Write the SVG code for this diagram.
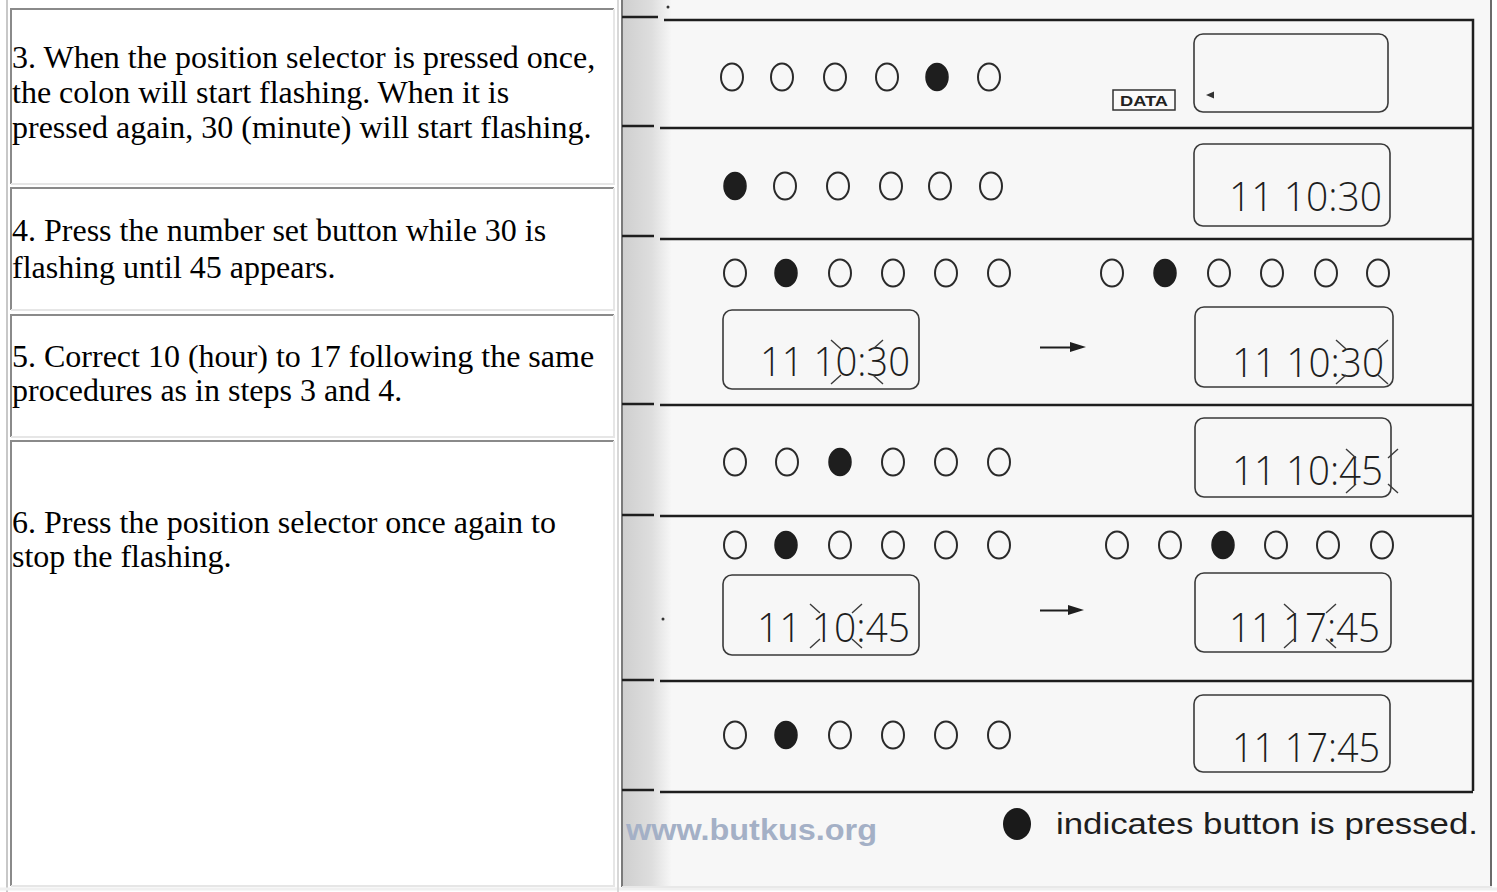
<svg xmlns="http://www.w3.org/2000/svg" width="1497" height="892" viewBox="0 0 1497 892">
<defs>
<style>
.cell{fill:#ffffff}
.bd{stroke:#8a8a8a;stroke-width:2;fill:none}
.bl{stroke:#e6e6e6;stroke-width:2;fill:none}
.t{font-family:"Liberation Serif","Times New Roman",serif;font-size:32px;fill:#000}
.rule{stroke:#1e1e1e;stroke-width:2.5;fill:none}
.oc{fill:none;stroke:#2a2a2a;stroke-width:2}
.fc{fill:#1e1e1e;stroke:#1e1e1e;stroke-width:1.5}
.lcd{fill:none;stroke:#3a3a3a;stroke-width:1.6}
.dig{font-family:"Open Sans","Liberation Sans Narrow","DejaVu Sans Mono",sans-serif;font-weight:300;font-size:40px;fill:#1e1e1e}
.fl{stroke:#3a3a3a;stroke-width:1.4;fill:none}
.arr{fill:#1e1e1e}
</style>
<linearGradient id="bind" x1="0" y1="0" x2="1" y2="0">
<stop offset="0" stop-color="#cfcfcf"/>
<stop offset="0.6" stop-color="#dedede"/>
<stop offset="1" stop-color="#f6f6f6"/>
</linearGradient>
<g id="flash">
<line x1="-26" y1="-22" x2="-16" y2="-13"/>
<line x1="26" y1="-22" x2="16" y2="-13"/>
<line x1="-26" y1="22" x2="-16" y2="13"/>
<line x1="26" y1="22" x2="16" y2="13"/>
</g>
</defs>
<rect x="0" y="0" width="1497" height="892" fill="#ffffff"/>
<line x1="7" y1="0" x2="7" y2="892" stroke="#c8c8c8" stroke-width="2"/>
<line x1="0" y1="889" x2="1497" y2="889" stroke="#f0f0f0" stroke-width="3"/>

<g id="step3">
<rect class="cell" x="11" y="9" width="603" height="175"/>
<path class="bd" d="M11,184 V9 H614"/>
<path class="bl" d="M614,9 V184 H11"/>
<text class="t" x="12" y="68">3. When the position selector is pressed once,</text>
<text class="t" x="12" y="103">the colon will start flashing. When it is</text>
<text class="t" x="12" y="138">pressed again, 30 (minute) will start flashing.</text>
</g>
<g id="step4">
<path class="bd" d="M11,310 V188 H614"/>
<path class="bl" d="M614,188 V310 H11"/>
<text class="t" x="12" y="241">4. Press the number set button while 30 is</text>
<text class="t" x="12" y="278">flashing until 45 appears.</text>
</g>
<g id="step5">
<path class="bd" d="M11,437 V315 H614"/>
<path class="bl" d="M614,315 V437 H11"/>
<text class="t" x="12" y="367">5. Correct 10 (hour) to 17 following the same</text>
<text class="t" x="12" y="401">procedures as in steps 3 and 4.</text>
</g>
<g id="step6">
<path class="bd" d="M11,886 V441 H614"/>
<path class="bl" d="M614,441 V886 H11"/>
<text class="t" x="12" y="533">6. Press the position selector once again to</text>
<text class="t" x="12" y="567">stop the flashing.</text>
</g>

<g id="scan">
<line x1="618" y1="0" x2="618" y2="892" stroke="#d8d8d8" stroke-width="2"/>
<rect x="623" y="0" width="867" height="886" fill="#f7f7f7"/>
<rect x="623" y="0" width="48" height="886" fill="url(#bind)"/>
<line x1="622" y1="0" x2="622" y2="887" stroke="#7a7a7a" stroke-width="2"/>
<line x1="1491" y1="0" x2="1491" y2="887" stroke="#6a6a6a" stroke-width="2"/>
<line x1="622" y1="887" x2="1492" y2="887" stroke="#e8e8e8" stroke-width="2"/>
</g>

<g id="connectors">
<path class="rule" d="M622,17 H658 M664,20 H1473 V791"/>
<path class="rule" d="M622,126 H654 M660,128 H1473"/>
<path class="rule" d="M622,236 H654 M660,239 H1473"/>
<path class="rule" d="M622,404 H654 M660,405 H1473"/>
<path class="rule" d="M622,515 H654 M660,516 H1473"/>
<path class="rule" d="M622,680 H654 M660,681 H1473"/>
<path class="rule" d="M622,790 H654 M660,792 H1473"/>
<circle cx="668" cy="7" r="1.5" fill="#333"/>
<circle cx="663" cy="619" r="1.5" fill="#333"/>
<path class="arr" d="M1040,346.5 H1070 V342 L1086,347 L1070,352 V348.5 H1040 Z"/>
<path class="arr" d="M1040,609.5 H1068 V605 L1084,610 L1068,615 V611.5 H1040 Z"/>
</g>

<g id="row1">
<ellipse class="oc" cx="732" cy="77" rx="11" ry="13.5"/>
<ellipse class="oc" cx="782" cy="77" rx="11" ry="13.5"/>
<ellipse class="oc" cx="835" cy="77" rx="11" ry="13.5"/>
<ellipse class="oc" cx="887" cy="77" rx="11" ry="13.5"/>
<ellipse class="fc" cx="937" cy="77" rx="11" ry="13.5"/>
<ellipse class="oc" cx="989" cy="77" rx="11" ry="13.5"/>
<rect x="1113" y="90" width="62" height="20" fill="#fafafa" stroke="#333" stroke-width="1.5"/>
<text x="1144" y="106" text-anchor="middle" font-family="Liberation Sans, Arial, sans-serif" font-weight="bold" font-size="14" fill="#222" textLength="48" lengthAdjust="spacingAndGlyphs">DATA</text>
<rect class="lcd" x="1194" y="34" width="194" height="78" rx="9"/>
<path d="M1206,95 L1214,91.5 V98.5 Z" fill="#333"/>
</g>

<g id="row2">
<ellipse class="fc" cx="735" cy="186" rx="11" ry="13.5"/>
<ellipse class="oc" cx="785" cy="186" rx="11" ry="13.5"/>
<ellipse class="oc" cx="838" cy="186" rx="11" ry="13.5"/>
<ellipse class="oc" cx="891" cy="186" rx="11" ry="13.5"/>
<ellipse class="oc" cx="940" cy="186" rx="11" ry="13.5"/>
<ellipse class="oc" cx="991" cy="186" rx="11" ry="13.5"/>
<rect class="lcd" x="1194" y="144" width="196" height="82" rx="9"/>
<text class="dig" x="1229" y="211" textLength="153" lengthAdjust="spacingAndGlyphs">11 10:30</text>
</g>

<g id="row3">
<ellipse class="oc" cx="735" cy="273" rx="11" ry="13.5"/>
<ellipse class="fc" cx="786" cy="273" rx="11" ry="13.5"/>
<ellipse class="oc" cx="840" cy="273" rx="11" ry="13.5"/>
<ellipse class="oc" cx="893" cy="273" rx="11" ry="13.5"/>
<ellipse class="oc" cx="946" cy="273" rx="11" ry="13.5"/>
<ellipse class="oc" cx="999" cy="273" rx="11" ry="13.5"/>
<ellipse class="oc" cx="1112" cy="273" rx="11" ry="13.5"/>
<ellipse class="fc" cx="1165" cy="273" rx="11" ry="13.5"/>
<ellipse class="oc" cx="1219" cy="273" rx="11" ry="13.5"/>
<ellipse class="oc" cx="1272" cy="273" rx="11" ry="13.5"/>
<ellipse class="oc" cx="1326" cy="273" rx="11" ry="13.5"/>
<ellipse class="oc" cx="1378" cy="273" rx="11" ry="13.5"/>
<rect class="lcd" x="723" y="310" width="196" height="79" rx="9"/>
<text class="dig" x="760" y="376" textLength="150" lengthAdjust="spacingAndGlyphs">11 10:30</text>
<use href="#flash" class="fl" x="857" y="362"/>
<rect class="lcd" x="1195" y="307" width="198" height="80" rx="9"/>
<text class="dig" x="1232" y="377" textLength="152" lengthAdjust="spacingAndGlyphs">11 10:30</text>
<use href="#flash" class="fl" x="1362" y="362"/>
</g>

<g id="row4">
<ellipse class="oc" cx="735" cy="462" rx="11" ry="13.5"/>
<ellipse class="oc" cx="787" cy="462" rx="11" ry="13.5"/>
<ellipse class="fc" cx="840" cy="462" rx="11" ry="13.5"/>
<ellipse class="oc" cx="893" cy="462" rx="11" ry="13.5"/>
<ellipse class="oc" cx="946" cy="462" rx="11" ry="13.5"/>
<ellipse class="oc" cx="999" cy="462" rx="11" ry="13.5"/>
<rect class="lcd" x="1195" y="418" width="196" height="79" rx="9"/>
<text class="dig" x="1232" y="485" textLength="151" lengthAdjust="spacingAndGlyphs">11 10:45</text>
<use href="#flash" class="fl" x="1372" y="471"/>
</g>

<g id="row5">
<ellipse class="oc" cx="735" cy="545" rx="11" ry="13.5"/>
<ellipse class="fc" cx="786" cy="545" rx="11" ry="13.5"/>
<ellipse class="oc" cx="840" cy="545" rx="11" ry="13.5"/>
<ellipse class="oc" cx="893" cy="545" rx="11" ry="13.5"/>
<ellipse class="oc" cx="946" cy="545" rx="11" ry="13.5"/>
<ellipse class="oc" cx="999" cy="545" rx="11" ry="13.5"/>
<ellipse class="oc" cx="1117" cy="545" rx="11" ry="13.5"/>
<ellipse class="oc" cx="1170" cy="545" rx="11" ry="13.5"/>
<ellipse class="fc" cx="1223" cy="545" rx="11" ry="13.5"/>
<ellipse class="oc" cx="1276" cy="545" rx="11" ry="13.5"/>
<ellipse class="oc" cx="1328" cy="545" rx="11" ry="13.5"/>
<ellipse class="oc" cx="1382" cy="545" rx="11" ry="13.5"/>
<rect class="lcd" x="723" y="575" width="196" height="80" rx="9"/>
<text class="dig" x="757" y="642" textLength="153" lengthAdjust="spacingAndGlyphs">11 10:45</text>
<use href="#flash" class="fl" x="836" y="626"/>
<rect class="lcd" x="1195" y="573" width="196" height="79" rx="9"/>
<text class="dig" x="1229" y="642" textLength="151" lengthAdjust="spacingAndGlyphs">11 17:45</text>
<use href="#flash" class="fl" x="1310" y="626"/>
</g>

<g id="row6">
<ellipse class="oc" cx="735" cy="735" rx="11" ry="13.5"/>
<ellipse class="fc" cx="786" cy="735" rx="11" ry="13.5"/>
<ellipse class="oc" cx="840" cy="735" rx="11" ry="13.5"/>
<ellipse class="oc" cx="893" cy="735" rx="11" ry="13.5"/>
<ellipse class="oc" cx="946" cy="735" rx="11" ry="13.5"/>
<ellipse class="oc" cx="999" cy="735" rx="11" ry="13.5"/>
<rect class="lcd" x="1194" y="695" width="196" height="77" rx="9"/>
<text class="dig" x="1232" y="762" textLength="148" lengthAdjust="spacingAndGlyphs">11 17:45</text>
</g>

<g id="legend">
<text x="626" y="840" font-family="Liberation Sans, Arial, sans-serif" font-weight="bold" font-size="30" fill="#a4b0c6" textLength="251" lengthAdjust="spacingAndGlyphs">www.butkus.org</text>
<ellipse cx="1017" cy="824" rx="14" ry="16" fill="#1a1a1a"/>
<text x="1056" y="834" font-family="Liberation Sans, Arial, sans-serif" font-size="29" fill="#1e1e1e" textLength="422" lengthAdjust="spacingAndGlyphs">indicates button is pressed.</text>
</g>
</svg>
